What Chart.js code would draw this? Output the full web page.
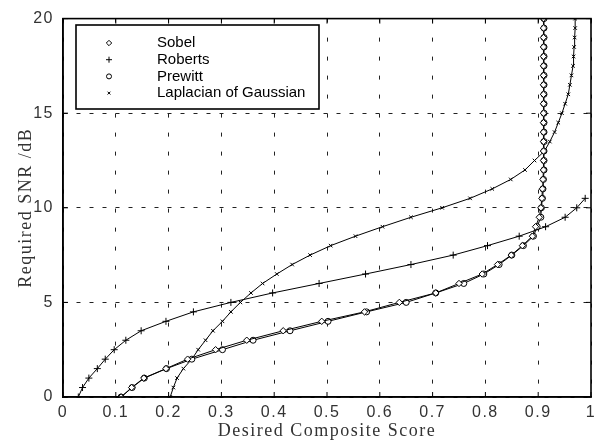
<!DOCTYPE html>
<html>
<head>
<meta charset="utf-8">
<script src="https://cdn.jsdelivr.net/npm/chart.js@4/dist/chart.umd.min.js"></script>
<style>
  body { margin: 0; background: #fff; }
  #wrap { width: 607px; height: 442px; }
</style>
</head>
<body>
<div id="wrap"><canvas id="myChart" width="607" height="442"></canvas></div>
<script>
// required SNR levels (dB), one per point
const snrLevels = [0, 0.5, 1, 1.5, 2, 2.5, 3, 3.5, 4, 4.5, 5, 5.5, 6, 6.5, 7, 7.5, 8, 8.5, 9, 9.5,
  10, 10.5, 11, 11.5, 12, 12.5, 13, 13.5, 14, 14.5, 15, 15.5, 16, 16.5, 17, 17.5, 18, 18.5, 19, 19.5, 20];

// desired composite score for each detector at those SNR levels
const sobelScore = [0.110, 0.130, 0.153, 0.195, 0.236, 0.289, 0.348, 0.417, 0.490, 0.571,
  0.637, 0.706, 0.750, 0.794, 0.823, 0.849, 0.870, 0.889, 0.895, 0.902,
  0.905, 0.907, 0.908, 0.909, 0.910, 0.910, 0.910, 0.910, 0.910, 0.910,
  0.910, 0.910, 0.910, 0.910, 0.910, 0.910, 0.910, 0.910, 0.910, 0.910, 0.910];
const robertsScore = [0.029, 0.037, 0.049, 0.065, 0.080, 0.097, 0.119, 0.148, 0.195, 0.247,
  0.318, 0.397, 0.485, 0.573, 0.659, 0.739, 0.804, 0.864, 0.914, 0.951, 0.973, 0.989];
const prewittScore = [0.110, 0.131, 0.154, 0.196, 0.244, 0.302, 0.360, 0.430, 0.502, 0.575,
  0.650, 0.706, 0.759, 0.797, 0.826, 0.850, 0.872, 0.891, 0.898, 0.905,
  0.906, 0.908, 0.909, 0.910, 0.911, 0.911, 0.911, 0.911, 0.911, 0.911,
  0.911, 0.911, 0.911, 0.911, 0.911, 0.911, 0.911, 0.911, 0.911, 0.911, 0.911];
const logScore = [0.203, 0.209, 0.216, 0.228, 0.244, 0.256, 0.270, 0.284, 0.302, 0.318,
  0.336, 0.356, 0.378, 0.405, 0.434, 0.468, 0.507, 0.554, 0.605, 0.659,
  0.718, 0.771, 0.813, 0.848, 0.875, 0.893, 0.912, 0.922, 0.931, 0.938,
  0.945, 0.951, 0.957, 0.960, 0.963, 0.966, 0.967, 0.968, 0.969, 0.970, 0.970];

const xTicks = [0, 0.1, 0.2, 0.3, 0.4, 0.5, 0.6, 0.7, 0.8, 0.9, 1];
const yTicks = [0, 5, 10, 15, 20];

const seriesNames = ['Sobel', 'Roberts', 'Prewitt', 'Laplacian of Gaussian'];
const seriesMarkers = ['rectRot', 'cross', 'circle', 'crossRot'];
const seriesRadius = [3.2, 3.5, 3, 2.5];

function toPoints(scores) {
  return scores.map((s, i) => ({ x: s, y: snrLevels[i] }));
}

const allScores = [sobelScore, robertsScore, prewittScore, logScore];

const datasets = allScores.map((scores, i) => ({
  label: seriesNames[i],
  data: toPoints(scores),
  showLine: true,
  borderColor: '#000',
  borderWidth: 1,
  backgroundColor: '#fff',
  pointStyle: seriesMarkers[i],
  pointRadius: seriesRadius[i],
  pointBorderColor: '#000',
  pointBorderWidth: 1,
  pointBackgroundColor: '#fff',
  tension: 0
}));

// the old plot has wide letter spacing on axis text
const spacing = {
  id: 'spacing',
  beforeDraw(chart) {
    chart.ctx.letterSpacing = '1.5px';
  }
};

// frame round the plot, with matlab style inward ticks
const framePlugin = {
  id: 'frame',
  afterDraw(chart) {
    const { ctx, chartArea: a, scales } = chart;
    ctx.save();
    ctx.strokeStyle = '#000';
    ctx.lineWidth = 1;
    ctx.beginPath();
    xTicks.forEach(v => {
      const px = scales.x.getPixelForValue(v);
      ctx.moveTo(px, a.bottom); ctx.lineTo(px, a.bottom - 5);
      ctx.moveTo(px, a.top); ctx.lineTo(px, a.top + 5);
    });
    yTicks.forEach(v => {
      const py = scales.y.getPixelForValue(v);
      ctx.moveTo(a.left, py); ctx.lineTo(a.left + 5, py);
      ctx.moveTo(a.right, py); ctx.lineTo(a.right - 5, py);
    });
    ctx.stroke();
    ctx.lineWidth = 1.6;
    ctx.strokeRect(a.left, a.top, a.right - a.left, a.bottom - a.top);
    ctx.restore();
  }
};

// legend box in the upper left, like the matlab one
const legendBox = {
  id: 'legendBox',
  afterDraw(chart) {
    const { ctx } = chart;
    const box = { x: 76, y: 25, w: 243, h: 84 };
    ctx.save();
    ctx.letterSpacing = '0px';
    ctx.fillStyle = '#fff';
    ctx.fillRect(box.x, box.y, box.w, box.h);
    ctx.strokeStyle = '#000';
    ctx.lineWidth = 1.6;
    ctx.strokeRect(box.x, box.y, box.w, box.h);
    ctx.font = '15px "Liberation Sans", Arial, sans-serif';
    ctx.textBaseline = 'middle';
    ctx.textAlign = 'left';
    seriesNames.forEach((name, i) => {
      const y = box.y + 18 + i * 16.7;
      ctx.lineWidth = 1;
      ctx.strokeStyle = '#000';
      ctx.fillStyle = '#fff';
      Chart.helpers.drawPoint(ctx, { pointStyle: seriesMarkers[i], radius: seriesRadius[i] - 0.5, borderWidth: 1 }, 109, y);
      ctx.fillStyle = '#000';
      ctx.fillText(name, 157, y);
    });
    ctx.restore();
  }
};

const ctx = document.getElementById('myChart').getContext('2d');
new Chart(ctx, {
  type: 'scatter',
  data: { datasets: datasets },
  plugins: [spacing, framePlugin, legendBox],
  options: {
    responsive: false,
    animation: false,
    layout: { padding: { top: 17, right: 16, left: 0, bottom: 0 } },
    plugins: {
      legend: { display: false },
      tooltip: { enabled: false }
    },
    scales: {
      x: {
        type: 'linear',
        min: 0,
        max: 1,
        afterFit: s => { s.height = 45; },
        afterBuildTicks: s => { s.ticks = xTicks.map(v => ({ value: v })); },
        ticks: {
          padding: 6,
          color: '#333',
          font: { family: '"Liberation Sans", Arial, sans-serif', size: 16 },
          maxRotation: 0,
          callback: v => String(Math.round(v * 10) / 10)
        },
        grid: { color: '#222', lineWidth: 1, drawTicks: false },
        border: { color: '#000', width: 1.5, dash: [4, 15] },
        title: {
          display: true,
          text: 'Desired Composite Score',
          color: '#333',
          font: { family: '"Liberation Serif", "Times New Roman", serif', size: 18 },
          padding: { top: 0, bottom: 0 }
        }
      },
      y: {
        type: 'linear',
        min: 0,
        max: 20,
        afterFit: s => { s.width = 63; },
        afterBuildTicks: s => { s.ticks = yTicks.map(v => ({ value: v })); },
        ticks: {
          padding: 9,
          color: '#333',
          font: { family: '"Liberation Sans", Arial, sans-serif', size: 16 }
        },
        grid: { color: '#222', lineWidth: 1, drawTicks: false },
        border: { color: '#000', width: 1.5, dash: [4, 9] },
        title: {
          display: true,
          text: 'Required SNR /dB',
          color: '#333',
          font: { family: '"Liberation Serif", "Times New Roman", serif', size: 18 },
          padding: { top: 15, bottom: 0 }
        }
      }
    }
  }
});
</script>
</body>
</html>
